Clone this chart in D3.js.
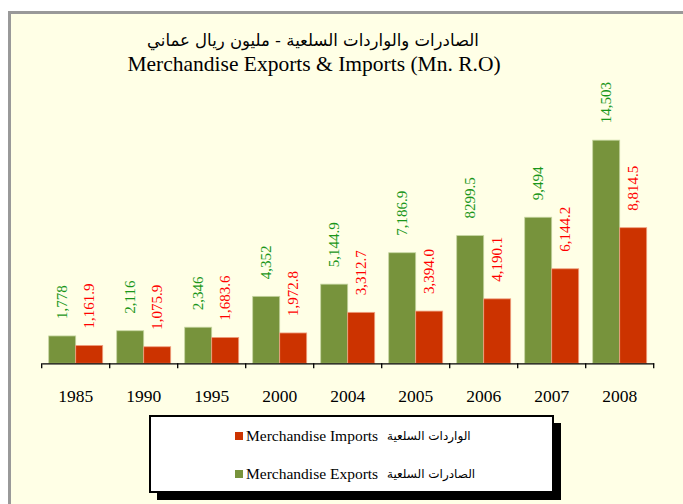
<!DOCTYPE html>
<html>
<head>
<meta charset="utf-8">
<script src="https://cdn.jsdelivr.net/npm/d3@7"></script>
<style>
  body { margin: 0; background: #fff; }
  text { font-family: "Liberation Serif", "Times New Roman", serif; }
</style>
</head>
<body>
<svg width="683" height="504"></svg>
<script>
// years on the x axis
const years = ["1985", "1990", "1995", "2000", "2004", "2005", "2006", "2007", "2008"];
// values in million R.O
const exportsVals = [1778, 2116, 2346, 4352, 5144.9, 7186.9, 8299.5, 9494, 14503];
const importsVals = [1161.9, 1075.9, 1683.6, 1972.8, 3312.7, 3394.0, 4190.1, 6144.2, 8814.5];
// labels as printed on the chart
const exportsLabels = ["1,778", "2,116", "2,346", "4,352", "5,144.9", "7,186.9", "8299.5", "9,494", "14,503"];
const importsLabels = ["1,161.9", "1,075.9", "1,683.6", "1,972.8", "3,312.7", "3,394.0", "4,190.1", "6,144.2", "8,814.5"];

const svg = d3.select("svg");

// frame
svg.append("rect").attr("x", 9.5).attr("y", 12.5).attr("width", 700).attr("height", 520)
    .attr("fill", "#ffffe6").attr("stroke", "#999").attr("stroke-width", 3);

// titles
svg.append("text").attr("x", 313).attr("y", 46).attr("text-anchor", "middle")
    .attr("fill", "#000")
    .style("font-family", "'DejaVu Sans', 'Noto Sans', sans-serif")
    .style("font-size", "16.5px")
    .text("الصادرات والواردات السلعية - مليون ريال عماني");
svg.append("text").attr("x", 314).attr("y", 71).attr("text-anchor", "middle")
    .attr("font-size", 21.5).attr("fill", "#000")
    .text("Merchandise Exports & Imports (Mn. R.O)");

const x = d3.scaleBand().domain(years).range([41.7, 653.7]).paddingInner(0).paddingOuter(0);
const y = d3.scaleLinear().domain([0, 16000]).range([363.3, 363.3 - 16000 / 65]);
const inner = d3.scaleBand().domain(["e", "i"]).range([7, x.bandwidth() - 7]);

const data = years.map((yr, i) => ({ yr, e: exportsVals[i], i: importsVals[i], el: exportsLabels[i], il: importsLabels[i] }));

const groups = svg.append("g").selectAll("g").data(data).join("g")
    .attr("transform", d => `translate(${x(d.yr)},0)`);

groups.append("rect").attr("x", inner("e")).attr("width", inner.bandwidth())
    .attr("y", d => y(d.e)).attr("height", d => y(0) - y(d.e))
    .attr("fill", "#77933c").attr("stroke", "#c5d5a0").attr("stroke-width", 0.8);
groups.append("rect").attr("x", inner("i")).attr("width", inner.bandwidth())
    .attr("y", d => y(d.i)).attr("height", d => y(0) - y(d.i))
    .attr("fill", "#cc3300").attr("stroke", "#f0a080").attr("stroke-width", 0.8);

// rotated value labels
groups.append("text")
    .attr("transform", d => `translate(${inner("e") + inner.bandwidth() / 2 + 5},${y(d.e) - 17}) rotate(-90)`)
    .attr("font-size", 15).attr("fill", "#1a961a")
    .text(d => d.el);
groups.append("text")
    .attr("transform", d => `translate(${inner("i") + inner.bandwidth() / 2 + 5},${y(d.i) - 17}) rotate(-90)`)
    .attr("font-size", 15).attr("fill", "#ff0000")
    .text(d => d.il);

// x axis
const axis = svg.append("g").attr("transform", `translate(0,${y(0)})`)
    .call(d3.axisBottom(x).tickSize(0).tickPadding(26));
axis.select(".domain").attr("stroke", "#000").attr("stroke-width", 1.3);
axis.selectAll(".tick text").attr("font-size", 17.5).attr("fill", "#000")
    .style("font-family", "'Liberation Serif', serif");
const edges = years.map(yr => x(yr)).concat([x.range()[1]]);
axis.selectAll(".edge").data(edges).join("line").attr("class", "edge")
    .attr("x1", d => d).attr("x2", d => d).attr("y1", 0).attr("y2", 5)
    .attr("stroke", "#000").attr("stroke-width", 1.3);

// legend
const lg = svg.append("g");
lg.append("rect").attr("x", 157).attr("y", 423).attr("width", 404).attr("height", 77).attr("fill", "#000");
lg.append("rect").attr("x", 150).attr("y", 416).attr("width", 403).attr("height", 76)
    .attr("fill", "#fff").attr("stroke", "#000").attr("stroke-width", 2);
const legendItems = [
  { en: "Merchandise Imports", ar: "الواردات السلعية", c: "#cc3300", y: 436 },
  { en: "Merchandise Exports", ar: "الصادرات السلعية", c: "#77933c", y: 474 }
];
legendItems.forEach(it => {
  lg.append("rect").attr("x", 235).attr("y", it.y - 4).attr("width", 8).attr("height", 8).attr("fill", it.c);
  lg.append("text").attr("x", 246).attr("y", it.y + 5).attr("font-size", 15.5).attr("fill", "#000").text(it.en);
  lg.append("text").attr("x", 387).attr("y", it.y + 4)
      .style("font-family", "'DejaVu Sans', sans-serif").style("font-size", "12px").attr("fill", "#000")
      .text(it.ar);
});
</script>
</body>
</html>
